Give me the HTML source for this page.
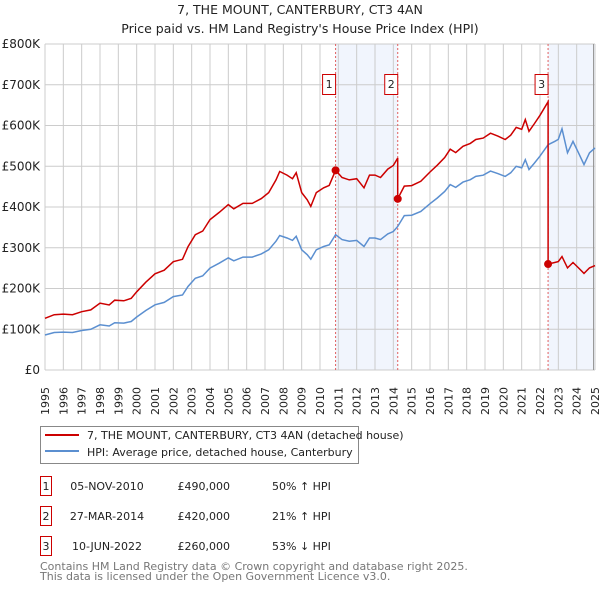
<!DOCTYPE html>
<html><head><meta charset="utf-8"><style>
body{margin:0;background:#fff;}
svg text{font-family:"DejaVu Sans","Liberation Sans",sans-serif;}
</style></head><body>
<svg id="c" width="600" height="590" viewBox="0 0 600 590"></svg>
<script>
const hpiYears=[1995,1995.5,1996,1996.5,1997,1997.5,1998,1998.5,1998.8,1999.3,1999.7,2000,2000.5,2001,2001.5,2002,2002.5,2002.8,2003.2,2003.6,2004,2004.5,2005,2005.3,2005.8,2006.3,2006.8,2007.2,2007.6,2007.8,2008.2,2008.5,2008.7,2009,2009.3,2009.5,2009.8,2010.2,2010.5,2010.85,2011.2,2011.6,2012,2012.4,2012.7,2013,2013.3,2013.7,2014,2014.23,2014.6,2015,2015.5,2016,2016.4,2016.8,2017.1,2017.4,2017.8,2018.2,2018.5,2018.9,2019.3,2019.7,2020.1,2020.4,2020.7,2021,2021.2,2021.4,2021.7,2022,2022.44,2022.8,2023,2023.2,2023.5,2023.8,2024.1,2024.4,2024.7,2025];
const hpiValues=[86,92,93,92,97,100,111,108,116,115,119,130,146,160,166,180,184,205,225,231,250,262,275,268,277,277,285,295,316,330,324,318,328,295,283,272,295,303,307,332,320,316,318,303,324,324,320,334,340,352,379,380,389,408,422,438,455,448,461,467,475,478,488,482,475,484,500,496,516,492,508,525,553,561,566,592,533,561,533,504,533,545];
const saleLabels=["1","2","3"];
const saleDates=[2010.85,2014.24,2022.44];
const salePrices=[490,420,260];
const saleDateText=["05-NOV-2010","27-MAR-2014","10-JUN-2022"];
const salePriceText=["£490,000","£420,000","£260,000"];
const saleHpiText=["50% ↑ HPI","21% ↑ HPI","53% ↓ HPI"];
const yTicks=[0,100,200,300,400,500,600,700,800];
const yTickLabels=["£0","£100K","£200K","£300K","£400K","£500K","£600K","£700K","£800K"];
const xTicks=[];for(let y=1995;y<=2025;y++)xTicks.push(y);

const X0=45,X1=595,Y0=370,Y1=44;
const xs=t=>X0+(t-1995)/30*(X1-X0);
const ys=v=>Y0-v/800*(Y0-Y1);
const svg=document.getElementById('c');
const NS='http://www.w3.org/2000/svg';
function mk(tag,attrs,parent){const e=document.createElementNS(NS,tag);for(const k in attrs)e.setAttribute(k,attrs[k]);(parent||svg).appendChild(e);return e;}
function hpiAt(t){for(let i=1;i<hpiYears.length;i++){if(t<=hpiYears[i]){const f=(t-hpiYears[i-1])/(hpiYears[i]-hpiYears[i-1]);return hpiValues[i-1]+f*(hpiValues[i]-hpiValues[i-1]);}}return hpiValues[hpiValues.length-1];}

let t;
t=mk('text',{x:300,y:14,'text-anchor':'middle','font-size':12.5,fill:'#222'});t.textContent='7, THE MOUNT, CANTERBURY, CT3 4AN';

t=mk('text',{x:300,y:33,'text-anchor':'middle','font-size':12.5,fill:'#222'});t.textContent="Price paid vs. HM Land Registry's House Price Index (HPI)";


// shaded regions
let r=mk('rect',{x:xs(saleDates[0]),y:Y1,width:xs(saleDates[1])-xs(saleDates[0]),height:Y0-Y1,fill:'#eef3fc',opacity:0.8});

r=mk('rect',{x:xs(saleDates[2]),y:Y1,width:X1-xs(saleDates[2]),height:Y0-Y1,fill:'#eef3fc',opacity:0.8});


// grid
xTicks.forEach(y=>{const l=mk('line',{x1:xs(y),x2:xs(y),y1:Y1,y2:Y0,stroke:'#cccccc','stroke-width':1});

const tx=mk('text',{x:0,y:0,transform:`translate(${xs(y)+4},${Y0+45}) rotate(-90)`,'font-size':11,fill:'#222'});tx.textContent=String(y);
});
yTicks.forEach((v,i)=>{const l=mk('line',{x1:X0,x2:X1,y1:ys(v),y2:ys(v),stroke:'#cccccc','stroke-width':1});

const tx=mk('text',{x:40,y:ys(v)+4,'text-anchor':'end','font-size':12,fill:'#222'});tx.textContent=yTickLabels[i];
});
let ax=mk('line',{x1:X1-1.5,x2:X1-1.5,y1:Y1,y2:Y0,stroke:'#999','stroke-width':1});


// sale vlines
saleDates.forEach(d=>{const l=mk('line',{x1:xs(d),x2:xs(d),y1:Y1,y2:Y0,stroke:'#e06060','stroke-width':1,'stroke-dasharray':'2,2'});
});

// HPI
let p=hpiYears.map((y,i)=>(i?'L':'M')+xs(y).toFixed(1)+','+ys(hpiValues[i]).toFixed(1)).join('');
let hl=mk('path',{d:p,fill:'none',stroke:'#5b8fd0','stroke-width':1.5});


// price paid line
let pts=[];
function seg(a,b,idx){const ratio=salePrices[idx]/hpiAt(saleDates[idx]);
const times=[a].concat(hpiYears.filter(y=>y>a&&y<b)).concat([b]);
times.forEach(tt=>pts.push([tt,hpiAt(tt)*ratio]));}
seg(1995,saleDates[0],0);seg(saleDates[0],saleDates[1],0);seg(saleDates[1],saleDates[2],1);seg(saleDates[2],2025,2);
// insert drops
let d='';pts.forEach((q,i)=>{d+=(i?'L':'M')+xs(q[0]).toFixed(1)+','+ys(q[1]).toFixed(1);});
let rl=mk('path',{d:d,fill:'none',stroke:'#cc0000','stroke-width':1.5});


saleDates.forEach((dd,i)=>{const c=mk('circle',{cx:xs(dd),cy:ys(salePrices[i]),r:4,fill:'#cc0000'});

const bx=mk('rect',{x:xs(dd)-13,y:74.5,width:13,height:20,fill:'#fff',stroke:'#cc0000','stroke-width':1});

const tx=mk('text',{x:xs(dd)-6.5,y:88,'text-anchor':'middle','font-size':11,fill:'#222'});tx.textContent=saleLabels[i];
});

// legend
let lg=mk('rect',{x:40.5,y:426.5,width:318,height:37,fill:'#fff',stroke:'#888','stroke-width':1});

let ll=mk('line',{x1:45,x2:79,y1:435,y2:435,stroke:'#cc0000','stroke-width':2});
t=mk('text',{x:87,y:439,'font-size':11,fill:'#222'});t.textContent='7, THE MOUNT, CANTERBURY, CT3 4AN (detached house)';
ll=mk('line',{x1:45,x2:79,y1:451,y2:451,stroke:'#5b8fd0','stroke-width':2});
t=mk('text',{x:87,y:456,'font-size':11,fill:'#222'});t.textContent='HPI: Average price, detached house, Canterbury';

// table
saleLabels.forEach((s,i)=>{const yy=476+i*30;
const b=mk('rect',{x:40.5,y:yy+0.5,width:11,height:19,fill:'#fff',stroke:'#cc0000','stroke-width':1});
let q=mk('text',{x:46,y:yy+14,'text-anchor':'middle','font-size':11,fill:'#222'});q.textContent=s;
q=mk('text',{x:107,y:yy+14,'text-anchor':'middle','font-size':11,fill:'#222'});q.textContent=saleDateText[i];
q=mk('text',{x:230,y:yy+14,'text-anchor':'end','font-size':11,fill:'#222'});q.textContent=salePriceText[i];
q=mk('text',{x:272,y:yy+14,'font-size':11,fill:'#222'});q.textContent=saleHpiText[i];});

t=mk('text',{x:40,y:570,'font-size':11,fill:'#777'});t.textContent='Contains HM Land Registry data © Crown copyright and database right 2025.';
t=mk('text',{x:40,y:580,'font-size':11,fill:'#777'});t.textContent='This data is licensed under the Open Government Licence v3.0.';
</script>
</body></html>
